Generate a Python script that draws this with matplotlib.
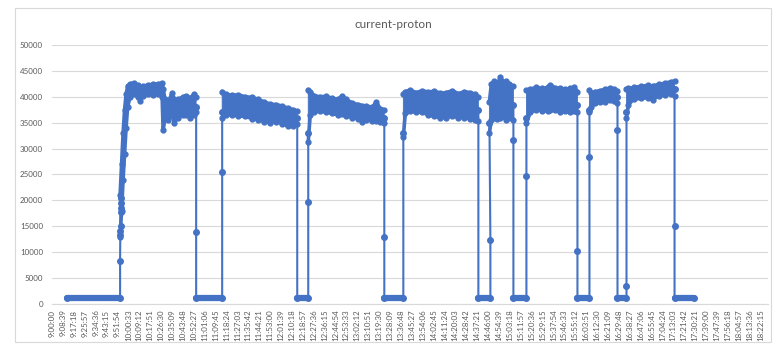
import numpy as np
import matplotlib.pyplot as plt
from matplotlib.patches import Rectangle

nan = np.nan

# seconds after 9:00:00 and measured current, off periods / ramps between beam runs
trace_sec = [715, 3241, 3241, 3250, 3256, 3262, 3270, 3276, 3282, 3289, nan,
             6863, 6863, 6863, 8102, 8102, 8102, nan,
             11677, 11677, 12201, 12201, 12201, nan,
             15823, 15823, 15823, 16729, 16729, nan,
             20303, 20303, 20875, 20875, 20830, nan,
             21971, 21971, 21971, 22591, 22591, 22591, nan,
             25021, 25021, 25021, 25593, 25593, 25593, nan,
             26928, 26928, 26928, 27357, 27357, 27357, nan,
             29645, 29645, 29645, 30550]
trace_cur = [1200, 1200, 8300, 13300, 14000, 15000, 17800, 18500, 19500, 20500, nan,
             38000, 13900, 1200, 1200, 25400, 37000, nan,
             36000, 1200, 1200, 19700, 33000, nan,
             36000, 13000, 1200, 1200, 33000, nan,
             37500, 1200, 1200, 12400, 35000, nan,
             38500, 31700, 1200, 1200, 24800, 36000, nan,
             38500, 10300, 1200, 1200, 28300, 37500, nan,
             40000, 33600, 1200, 1200, 3500, 37000, nan,
             41500, 15100, 1200, 1200]

# spread of the noisy signal while the beam is on (lower / upper edge)
band_sec = [3241, 3312, 3384, 3455, 3527, 3598, 3717, 3908, 4099, 4194, 4337, 4575,
            4814, 5052, 5243, 5290, 5386, 5529, 5719, 5815, 6005, 6243, 6386, 6577,
            6768, 6863, nan,
            8102, 8293, 8579, 8865, 9198, 9532, 9818, 10104, 10390, 10676, 10962,
            11248, 11486, 11677, nan,
            12201, 12296, 12487, 12773, 13059, 13345, 13631, 13821, 14012, 14298,
            14584, 14775, 14965, 15251, 15442, 15632, 15823, nan,
            16729, 16824, 17062, 17348, 17634, 17920, 18206, 18492, 18778, 19064,
            19350, 19636, 19922, 20160, 20303, nan,
            20827, 20923, 21066, 21209, 21352, 21495, 21638, 21781, 21971, nan,
            22591, 22781, 23067, 23353, 23639, 23734, 23973, 24211, 24450, 24688,
            24879, 25021, nan,
            25593, 25689, 25879, 26118, 26356, 26594, 26785, 26928, nan,
            27357, 27452, 27691, 28024, 28358, 28596, 28882, 29168, 29454, 29645]
band_lo = [13000, 18000, 24000, 29000, 34000, 38000, 40000, 40500, 40000, 39200, 40200, 40500,
           40300, 40500, 40000, 33500, 36000, 35500, 36500, 35000, 36000, 36500, 36500, 36000,
           36500, 37000, nan,
           36000, 36500, 36500, 36300, 36200, 35800, 35600, 35200, 35000, 35200, 34800,
           34300, 34400, 34700, nan,
           31300, 36500, 37000, 37300, 37000, 36800, 36500, 36700, 36300, 36000,
           35800, 35200, 35600, 35300, 35400, 35200, 35000, nan,
           32300, 36800, 37200, 37000, 37000, 36500, 36200, 36000, 36000, 36300,
           36000, 36000, 35800, 35500, 35300, nan,
           33000, 35500, 36000, 35800, 36000, 36200, 35500, 36000, 35500, nan,
           35000, 37000, 37500, 37300, 37200, 37500, 37500, 37000, 37200, 37000,
           37200, 37000, nan,
           37100, 38000, 38800, 39000, 39000, 39300, 39200, 38800, nan,
           36000, 38500, 39500, 39700, 39800, 39400, 40200, 40300, 40500, 40200]
band_hi = [21000, 27000, 33000, 37500, 40500, 42000, 42500, 42700, 42200, 41800, 42000, 42300,
           42400, 42500, 42700, 41500, 39500, 39000, 40700, 39500, 39500, 40000, 40200, 39800,
           40500, 40000, nan,
           41000, 40500, 40300, 40400, 40000, 39900, 39500, 39000, 38600, 38500, 38200,
           37800, 37500, 37200, nan,
           41300, 41000, 40200, 40000, 40100, 39700, 39500, 40200, 39500, 38800,
           38500, 38300, 38200, 38000, 39000, 37700, 37500, nan,
           40500, 41000, 41300, 40800, 41200, 40900, 41100, 40700, 40800, 41200,
           40600, 41000, 40800, 40500, 40000, nan,
           39000, 42500, 43000, 42300, 43900, 42800, 43000, 42500, 42000, nan,
           41300, 41500, 41800, 41600, 41800, 42300, 41700, 41600, 41500, 41600,
           41800, 41000, nan,
           41300, 40800, 41000, 41200, 41500, 41700, 41500, 41200, nan,
           41500, 41600, 41800, 42000, 42200, 42100, 42400, 42600, 42900, 43000]

# category labels, one every 519 s from 9:00:00
label_step = 519
label_sec = np.arange(0, 33736, label_step)
tick_labels = ['%d:%02d:%02d' % (9 + s // 3600, s % 3600 // 60, s % 60) for s in label_sec]

blue = '#4472C4'
grid = '#D9D9D9'
txt = '#595959'
plt.rcParams['font.family'] = ['Lato', 'DejaVu Sans']

fig = plt.figure(figsize=(7.79, 3.46), dpi=100)
ax = fig.add_axes([0.0668, 0.1214, 0.9192, 0.7486])

trace_sec = np.array(trace_sec, dtype=float)
trace_cur = np.array(trace_cur, dtype=float)
band_sec = np.array(band_sec, dtype=float)
band_lo = np.array(band_lo, dtype=float)
band_hi = np.array(band_hi, dtype=float)

ax.fill_between(band_sec, band_lo, band_hi, facecolor=blue, edgecolor=blue, lw=0.6, zorder=3)
for edge in (band_lo, band_hi):
    ax.plot(band_sec, edge, '-o', color=blue, lw=2.6, ms=3.5, zorder=3,
            solid_joinstyle='round')
ax.plot(trace_sec, trace_cur, '-o', color=blue, lw=1.5, ms=4, zorder=4)
# baseline periods show up as a thick bar of overlapping points
low = np.where(trace_cur < 2000, trace_cur, nan)
ax.plot(trace_sec, low, '-', color=blue, lw=4.5, solid_capstyle='round', zorder=4)

ax.set_xlim(0, 34100)
ax.set_ylim(0, 50000)
ax.set_yticks(np.arange(0, 50001, 5000))
ax.set_xticks(label_sec)
ax.set_xticklabels(tick_labels, rotation=90)
ax.grid(axis='y', color=grid, lw=0.8)
ax.set_axisbelow(True)
for side in ('left', 'right', 'top'):
    ax.spines[side].set_visible(False)
ax.spines['bottom'].set_color(grid)
ax.tick_params(axis='both', length=0, labelsize=5.7, colors=txt)
ax.tick_params(axis='y', pad=6.5)
ax.tick_params(axis='x', pad=4)

fig.text(0.505, 0.928, 'current-proton', ha='center', va='center', fontsize=8.5, color=txt)
fig.patches.append(Rectangle((0.0193, 0.0116), 0.9705, 0.9653, transform=fig.transFigure,
                             fill=False, edgecolor=grid, lw=0.8))

fig.savefig('out.png', dpi=100)
